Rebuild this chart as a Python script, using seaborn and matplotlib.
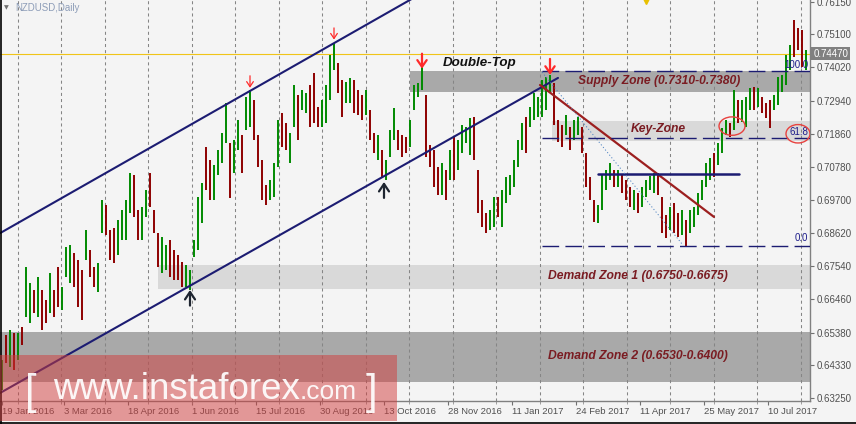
import numpy as np
import pandas as pd
import seaborn as sns
import matplotlib
matplotlib.use("Agg")
import matplotlib.pyplot as plt
import matplotlib.transforms as mtransforms
from matplotlib.patches import Rectangle, Ellipse
from matplotlib.lines import Line2D

# ---------------- data ----------------
# NZDUSD daily bars (one bar per two sessions), prices in pips (x 0.0001)
high_pips = [
    6448, 6530, 6546, 6536, 6536, 6556, 6752, 6699, 6677, 6719, 6677, 6644, 6732,
    6677, 6752, 6686, 6817, 6823, 6797, 6774, 6742, 6872, 6807, 6752, 6765,
    6970, 6954, 6872, 6879, 6905, 6937, 6970, 7058, 7052, 6937, 6947, 7003, 7058,
    6937, 6862, 6849, 6823, 6840, 6807, 6791, 6768, 6758, 6742, 6840, 6980,
    7025, 7143, 7100, 7084, 7133, 7188, 7286, 7156, 7166, 7231, 7182, 7306, 7329,
    7296, 7182, 7100, 7019, 7035, 7091, 7231, 7254, 7221, 7188, 7345, 7312,
    7329, 7319, 7345, 7384, 7273, 7296, 7345, 7443, 7482, 7417, 7361, 7355, 7368,
    7361, 7329, 7312, 7329, 7263, 7188, 7182, 7133, 7100, 7198, 7270, 7198,
    7182, 7175, 7231, 7345, 7351, 7420, 7312, 7149, 7133, 7078, 7091, 7068, 7133,
    7175, 7166, 7214, 7208, 7237, 7241, 7068, 6970, 6928, 6937, 6980, 6980,
    7003, 7045, 7052, 7100, 7166, 7221, 7241, 7273, 7319, 7306, 7361, 7371, 7378,
    7351, 7231, 7214, 7247, 7208, 7231, 7241, 7208, 7123, 7045, 6970, 6954,
    7052, 7068, 7091, 7068, 7068, 7052, 7035, 7012, 7003, 6993, 7012, 7035, 7048,
    7058, 7058, 6980, 6921, 6947, 6960, 6928, 6937, 6905, 6937, 6947, 6993,
    7035, 7091, 7107, 7123, 7156, 7205, 7231, 7221, 7329, 7296, 7296, 7306, 7335,
    7338, 7335, 7306, 7286, 7296, 7312, 7371, 7377, 7443, 7475, 7557, 7531,
    7524, 7459,
]
low_pips = [
    6351, 6439, 6426, 6416, 6448, 6497, 6589, 6569, 6602, 6589, 6546, 6569, 6602,
    6589, 6621, 6611, 6719, 6699, 6686, 6621, 6579, 6774, 6719, 6686, 6670,
    6862, 6856, 6774, 6765, 6791, 6840, 6840, 6928, 6915, 6840, 6840, 6915, 6947,
    6862, 6752, 6732, 6742, 6719, 6709, 6709, 6686, 6686, 6677, 6784, 6807,
    6895, 7003, 6970, 6970, 7052, 7091, 7156, 6977, 7058, 7133, 7058, 7198, 7208,
    7166, 7078, 6970, 6954, 6970, 6980, 7078, 7143, 7133, 7091, 7208, 7166,
    7263, 7254, 7208, 7221, 7208, 7208, 7221, 7296, 7394, 7319, 7241, 7286, 7286,
    7254, 7247, 7231, 7247, 7166, 7123, 7100, 7045, 7035, 7110, 7166, 7133,
    7110, 7123, 7143, 7263, 7306, 7329, 7110, 7078, 7012, 6986, 6986, 6970, 7035,
    7035, 7068, 7123, 7156, 7117, 7100, 6928, 6882, 6862, 6872, 6882, 6915,
    6882, 6960, 6986, 7012, 7078, 7133, 7123, 7208, 7231, 7241, 7241, 7263, 7322,
    7214, 7159, 7143, 7182, 7133, 7166, 7182, 7123, 7012, 6970, 6898, 6895,
    6937, 7003, 7035, 7012, 7012, 6993, 6970, 6947, 6937, 6928, 6947, 6980, 7003,
    6993, 6986, 6862, 6846, 6872, 6862, 6849, 6856, 6817, 6862, 6882, 6921,
    6970, 7012, 7035, 7045, 7084, 7123, 7182, 7175, 7198, 7221, 7224, 7208, 7263,
    7263, 7273, 7254, 7237, 7205, 7263, 7280, 7322, 7345, 7394, 7436, 7459,
    7404, 7394,
]
bull = ("grgrgrggrgrrgrrgggrrrgrrg"
        "grrrggggrrggrrrggrrrrgggg"
        "grrggggrggrggrrrrgggrrggr"
        "ggrrrggggrrggrrrgrrgrgggr"
        "rrggggrrrrgrgrggggrrrrggr"
        "ggggggrggggggrrrgrggrrrrg"
        "gggrgrrrgrggggrrrgrrgrggg"
        "gggrgggrgrgggrgrrrgggggrr"
        "rg")

date_labels = ["19 Jan 2016", "3 Mar 2016", "18 Apr 2016", "1 Jun 2016",
               "15 Jul 2016", "30 Aug 2016", "13 Oct 2016", "28 Nov 2016",
               "11 Jan 2017", "24 Feb 2017", "11 Apr 2017", "25 May 2017",
               "10 Jul 2017"]
price_ticks = [0.76150, 0.75100, 0.74020, 0.72940, 0.71860, 0.70780, 0.69700,
               0.68620, 0.67540, 0.66460, 0.65380, 0.64330, 0.63250]
last_price = 0.74470

zone_names = ["Supply Zone (0.7310-0.7380)", "Key-Zone",
              "Demand Zone 1 (0.6750-0.6675)", "Demand Zone 2 (0.6530-0.6400)"]
zone_low = [0.7322, 0.7162, 0.6680, 0.6377]
zone_high = [0.7391, 0.7228, 0.6758, 0.6540]
zone_start = [102, 137.5, 39, -0.5]

fib_low, fib_high = 0.6820, 0.7391
fib_levels = [1.0, 0.618, 0.0]
fib_names = ["100.0", "61.8", "0.0"]

# ---------------- figure ----------------
sns.set_theme(style="white")
plt.rcParams['font.family'] = ['Liberation Sans', 'DejaVu Sans']
plt.rcParams['lines.scale_dashes'] = False

BG = '#f4f4f4'
NAVY = '#1c1c72'
ZTXT = '#7a1c22'

fig = plt.figure(figsize=(8.56, 4.24), dpi=100, facecolor=BG)
ax = fig.add_axes([0, 23 / 424, 810 / 856, 401 / 424])
ax.set_facecolor(BG)
n = len(high_pips)
assert len(low_pips) == n and len(bull) == n
ax.set_xlim(-0.5, 202)
ax.set_ylim(0.6315, 0.7622)

idx = np.arange(n)
high = np.array(high_pips) / 1e4
low = np.array(low_pips) / 1e4

# vertical dashed grid
grid_pos = np.arange(4, 202, 10.87)
ax.vlines(grid_pos, 0.6315, 0.7622, colors='#858585', linestyles=(0, (2.2, 2.2)),
          lw=0.75, zorder=1)

# zones
zcols = ['#a9a9a9', '#d9d9d9', '#d9d9d9', '#a9a9a9']
for lo, hi, st, c in zip(zone_low, zone_high, zone_start, zcols):
    ax.add_patch(Rectangle((st, lo), 202 - st, hi - lo, fc=c, ec='none', zorder=0.5))

# bars
df = pd.DataFrame({'i': idx, 'high': high, 'low': low,
                   'dir': ['up' if c == 'g' else 'down' for c in bull]})
cols = np.where(df['dir'] == 'up', '#008a00', '#8e0000')
ax.vlines(df['i'], df['low'], df['high'], colors=cols, lw=1.4, zorder=3)

# current price line
ax.axhline(last_price, color='#f0c419', lw=0.8, zorder=2)

# channel lines & trend lines
def seg(p0, p1, color, lw, z=4):
    sns.lineplot(x=[p0[0], p1[0]], y=[p0[1], p1[1]], ax=ax, color=color, lw=lw,
                 zorder=z, legend=False)

seg((-0.5, 0.6862), (102.5, 0.7626), NAVY, 1.5)
seg((-0.5, 0.6341), (139, 0.7368), NAVY, 1.5)
seg((134.5, 0.7345), (178, 0.6915), '#9c1f1f', 1.6)
seg((149, 0.7055), (184.25, 0.7055), NAVY, 1.8)
ax.plot([135, 170.25], [0.7387, 0.6823], color='#4a80c0', lw=0.7,
        ls=(0, (0.8, 1.6)), zorder=4)

# fibonacci levels
for lvl, name in zip(fib_levels, fib_names):
    p = fib_low + lvl * (fib_high - fib_low)
    ax.plot([135, 202], [p, p], color=NAVY, lw=1.0, ls=(0, (12, 4.5)), zorder=4)
    off = 0.0003 if lvl != 0.0 else 0.001
    ax.text(201.6, p + off, name, ha='right', va='bottom', fontsize=7,
            color='#1c1c8a', zorder=6)

# ellipses
ax.add_patch(Ellipse((182.5, 0.7211), 6.5, 0.0060, fill=False, ec='#e8423f', lw=1.0, zorder=6))
ax.add_patch(Ellipse((199.0, 0.7186), 6.0, 0.0060, fill=False, ec='#e8423f', lw=1.0, zorder=6))

# zone texts
zpos = [(144, 0.7359), (157.25, 0.7200), (136.5, 0.6722), (136.5, 0.6461)]
for name, (xx, yy) in zip(zone_names, zpos):
    ax.text(xx, yy, name, ha='left', va='center', fontsize=8.7, fontweight='bold',
            fontstyle='italic', color=ZTXT, zorder=6)
ax.text(110.25, 0.7417, "Double-Top", ha='left', va='center', fontsize=9.6,
        fontweight='bold', fontstyle='italic', color='#111111', zorder=6)

# arrows
def arrow(i, tail, tip, color, lw, hl, hw):
    ax.annotate('', xy=(i, tip), xytext=(i, tail),
                arrowprops=dict(arrowstyle=f'->,head_length={hl},head_width={hw}',
                                color=color, lw=lw, shrinkA=0, shrinkB=0), zorder=7)

arrow(62, 0.7375, 0.7336, '#ff2a2a', 0.9, 0.3, 0.2)
arrow(83, 0.7531, 0.7493, '#ff2a2a', 0.9, 0.3, 0.2)
arrow(105, 0.7447, 0.7398, '#ff2a2a', 1.6, 0.4, 0.28)
arrow(137, 0.7430, 0.7378, '#ff2a2a', 1.6, 0.4, 0.28)
arrow(47, 0.6626, 0.6677, '#1e2530', 1.6, 0.45, 0.3)
arrow(95.5, 0.6977, 0.7029, '#1e2530', 1.6, 0.45, 0.3)

ax.plot(161, 0.7618, marker='v', ms=5, color='#e8c000', mec='#e8c000',
        clip_on=False, zorder=7)

# axes styling
for s in ['top', 'left']:
    ax.spines[s].set_visible(False)
for s in ['right', 'bottom']:
    ax.spines[s].set_color('#808080')
    ax.spines[s].set_linewidth(1.0)

ax.yaxis.tick_right()
ax.set_yticks(price_ticks)
ax.set_yticklabels([f"{p:.5f}" for p in price_ticks])
ax.tick_params(axis='y', which='major', direction='out', length=3, width=0.8,
               color='#707070', labelsize=7, labelcolor='#505050', pad=2, right=True, left=False)

tick_pos = [0] + [16 * k - 0.6 for k in range(1, len(date_labels))]
ax.set_xticks(tick_pos)
ax.set_xticklabels(date_labels)
for lbl in ax.get_xticklabels():
    lbl.set_ha('left')
ax.set_xticks(grid_pos, minor=True)
ax.tick_params(axis='x', which='major', direction='out', length=3, width=0.8,
               color='#707070', labelsize=6.8, labelcolor='#505050', pad=1.5, bottom=True)
ax.tick_params(axis='x', which='minor', direction='out', length=2, width=0.6,
               color='#909090', bottom=True)
ax.grid(False)
ax.set_xlabel('')
ax.set_ylabel('')

# current price label
tr = mtransforms.blended_transform_factory(ax.transAxes, ax.transData)
ax.text(1.004, last_price, "0.74470", transform=tr, ha='left', va='center',
        fontsize=7, color='white', zorder=8, clip_on=False,
        bbox=dict(boxstyle='square,pad=0.18', fc='#808080', ec='none'))

# header
fig.text(15 / 856, 1 - 8 / 424, "NZDUSD,Daily", fontsize=7, color='#8d9db8',
         ha='left', va='center')
fig.text(4 / 856, 1 - 8 / 424, "\u25BC", fontsize=4.5, color='#707070',
         ha='left', va='center', family='DejaVu Sans')

# watermark
fig.patches.append(Rectangle((0, 3 / 424), 397 / 856, 66 / 424, transform=fig.transFigure,
                             fc='#d23c3c', alpha=0.5, ec='none', zorder=10))
wm = dict(color='white', alpha=0.92, zorder=11, va='baseline', ha='left')
fig.text(25 / 856, 20 / 424, "[", fontsize=30, fontweight='light', **wm)
fig.text(53 / 856, 25 / 424, "www.instaforex", fontsize=26.5, **wm)
fig.text(300 / 856, 25 / 424, ".com", fontsize=19, **wm)
fig.text(366 / 856, 20 / 424, "]", fontsize=30, fontweight='light', **wm)

# frame
fig.add_artist(Line2D([0.5 / 856, 0.5 / 856], [0, 1], transform=fig.transFigure,
                      color='black', lw=1.2))
fig.add_artist(Line2D([0, 1], [0.6 / 424, 0.6 / 424], transform=fig.transFigure,
                      color='black', lw=1.2))

fig.savefig("out.png", dpi=100, facecolor=BG)
